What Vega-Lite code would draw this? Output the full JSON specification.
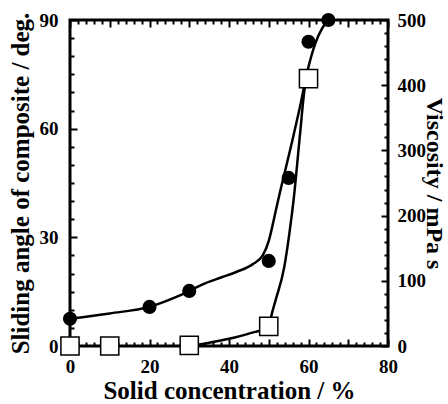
{
  "$schema": "https://vega.github.io/schema/vega-lite/v6.json",
  "width": 318,
  "height": 326,
  "autosize": "none",
  "padding": {"left": 70, "top": 20, "right": 60, "bottom": 58},
  "background": "white",
  "config": {
    "view": {"stroke": "black", "strokeWidth": 3},
    "font": "Liberation Serif",
    "axis": {
      "domain": false,
      "grid": false,
      "labelFont": "Liberation Serif",
      "labelFontWeight": "bold",
      "labelFontSize": 19,
      "labelColor": "black",
      "labelFlush": false,
      "labelOverlap": false,
      "tickColor": "black",
      "tickWidth": 2,
      "titleFont": "Liberation Serif",
      "titleFontWeight": "bold",
      "titleFontSize": 25,
      "titleColor": "black"
    }
  },
  "datasets": {
    "angle": [
      {"conc": 0, "angle": 7.5},
      {"conc": 20, "angle": 10.8},
      {"conc": 30, "angle": 15.2},
      {"conc": 50, "angle": 23.5},
      {"conc": 55, "angle": 46.4},
      {"conc": 60, "angle": 84},
      {"conc": 65, "angle": 90}
    ],
    "angleCurve": [
      {"conc": 0, "angle": 7.5},
      {"conc": 10, "angle": 9.0},
      {"conc": 20, "angle": 10.8},
      {"conc": 26, "angle": 13.2},
      {"conc": 30, "angle": 15.2},
      {"conc": 34, "angle": 17.3},
      {"conc": 38, "angle": 18.9},
      {"conc": 42, "angle": 20.5},
      {"conc": 46, "angle": 22.6},
      {"conc": 48.5, "angle": 25},
      {"conc": 50, "angle": 29},
      {"conc": 51, "angle": 33.5},
      {"conc": 52, "angle": 38.5},
      {"conc": 53, "angle": 43.3},
      {"conc": 54, "angle": 47.8},
      {"conc": 56, "angle": 57},
      {"conc": 57.75, "angle": 65.5},
      {"conc": 59.75, "angle": 76},
      {"conc": 61.7, "angle": 83.5},
      {"conc": 63.5, "angle": 87.8},
      {"conc": 65, "angle": 90}
    ],
    "visc": [
      {"conc": 0, "visc": 0},
      {"conc": 10, "visc": 0},
      {"conc": 30, "visc": 1},
      {"conc": 50, "visc": 30},
      {"conc": 60, "visc": 410}
    ],
    "viscCurve": [
      {"conc": 30, "visc": 0},
      {"conc": 35, "visc": 5},
      {"conc": 40, "visc": 11},
      {"conc": 45, "visc": 19},
      {"conc": 50, "visc": 30},
      {"conc": 50.8, "visc": 50},
      {"conc": 51.8, "visc": 72},
      {"conc": 53.9, "visc": 121},
      {"conc": 55.2, "visc": 173},
      {"conc": 56.25, "visc": 224},
      {"conc": 57.9, "visc": 327},
      {"conc": 59, "visc": 393},
      {"conc": 59.6, "visc": 410}
    ]
  },
  "layer": [
    {
      "data": {"name": "angleCurve"},
      "mark": {"type": "line", "interpolate": "monotone", "color": "black", "strokeWidth": 2.5},
      "encoding": {
        "x": {
          "field": "conc", "type": "quantitative",
          "scale": {"domain": [0, 80], "nice": false, "zero": false},
          "axis": {
            "orient": "bottom",
            "values": [0,2,4,6,8,10,12,14,16,18,20,22,24,26,28,30,32,34,36,38,40,42,44,46,48,50,52,54,56,58,60,62,64,66,68,70,72,74,76,78,80],
            "tickSize": {"condition": {"test": "datum.value % 10 === 0", "value": -7}, "value": -4},
            "labelExpr": "datum.value % 20 === 0 ? datum.label : ''",
            "labelPadding": 33,
            "labelBaseline": "alphabetic",
            "title": "Solid concentration / %",
            "titleBaseline": "alphabetic",
            "titleY": 52
          }
        },
        "y": {
          "field": "angle", "type": "quantitative",
          "scale": {"domain": [0, 90], "nice": false, "zero": false},
          "axis": {
            "orient": "left",
            "values": [0,5,10,15,20,25,30,35,40,45,50,55,60,65,70,75,80,85,90],
            "tickSize": {"condition": {"test": "datum.value % 30 === 0", "value": -7}, "value": -4},
            "labelExpr": "datum.value % 30 === 0 ? datum.label : ''",
            "labelPadding": 19,
            "title": "Sliding angle of composite / deg.",
            "titleAngle": -90,
            "titleBaseline": "alphabetic",
            "titleX": -42
          }
        }
      }
    },
    {
      "data": {"name": "viscCurve"},
      "mark": {"type": "line", "interpolate": "monotone", "color": "black", "strokeWidth": 2.5},
      "encoding": {
        "x": {
          "field": "conc", "type": "quantitative",
          "scale": {"domain": [0, 80], "nice": false, "zero": false},
          "axis": {
            "orient": "top",
            "values": [0,2,4,6,8,10,12,14,16,18,20,22,24,26,28,30,32,34,36,38,40,42,44,46,48,50,52,54,56,58,60,62,64,66,68,70,72,74,76,78,80],
            "tickSize": {"condition": {"test": "datum.value % 10 === 0", "value": -7}, "value": -4},
            "labels": false,
            "title": null
          }
        },
        "y": {
          "field": "visc", "type": "quantitative",
          "scale": {"domain": [0, 500], "nice": false, "zero": false},
          "axis": {
            "orient": "right",
            "values": [0,20,40,60,80,100,120,140,160,180,200,220,240,260,280,300,320,340,360,380,400,420,440,460,480,500],
            "tickSize": {"condition": {"test": "datum.value % 100 === 0", "value": -7}, "value": -4},
            "labelExpr": "datum.value % 100 === 0 ? datum.label : ''",
            "labelPadding": 16,
            "title": "Viscosity / mPa s",
            "titleFontSize": 24,
            "titleAngle": 90,
            "titleBaseline": "alphabetic",
            "titleX": 38
          }
        }
      }
    },
    {
      "data": {"name": "visc"},
      "mark": {"type": "point", "shape": "square", "filled": true, "fill": "white", "stroke": "black", "strokeWidth": 1.5, "size": 330, "opacity": 1},
      "encoding": {
        "x": {"field": "conc", "type": "quantitative", "scale": {"domain": [0, 80], "nice": false, "zero": false}, "axis": null},
        "y": {"field": "visc", "type": "quantitative", "scale": {"domain": [0, 500], "nice": false, "zero": false}, "axis": null}
      }
    },
    {
      "data": {"name": "angle"},
      "mark": {"type": "circle", "color": "black", "size": 200, "opacity": 1},
      "encoding": {
        "x": {"field": "conc", "type": "quantitative", "scale": {"domain": [0, 80], "nice": false, "zero": false}, "axis": null},
        "y": {"field": "angle", "type": "quantitative", "scale": {"domain": [0, 90], "nice": false, "zero": false}, "axis": null}
      }
    }
  ],
  "resolve": {
    "scale": {"y": "independent"},
    "axis": {"x": "independent", "y": "independent"}
  }
}
